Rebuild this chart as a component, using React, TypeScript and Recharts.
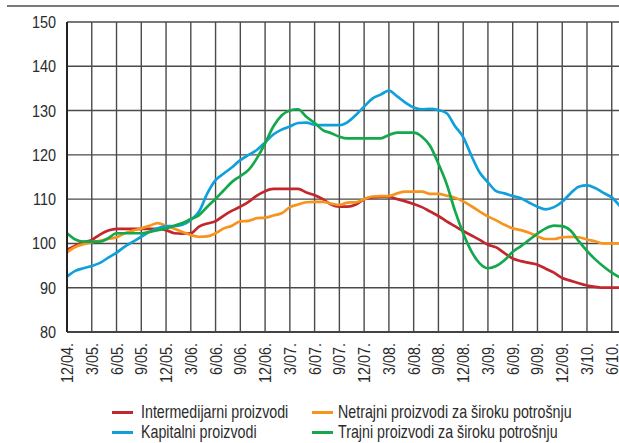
import { LineChart, Line, XAxis, YAxis, CartesianGrid } from "recharts";

const months = [
  "12/04.", "1/05.", "2/05.", "3/05.", "4/05.", "5/05.", "6/05.", "7/05.", "8/05.", "9/05.", "10/05.", "11/05.",
  "12/05.", "1/06.", "2/06.", "3/06.", "4/06.", "5/06.", "6/06.", "7/06.", "8/06.", "9/06.", "10/06.", "11/06.",
  "12/06.", "1/07.", "2/07.", "3/07.", "4/07.", "5/07.", "6/07.", "7/07.", "8/07.", "9/07.", "10/07.", "11/07.",
  "12/07.", "1/08.", "2/08.", "3/08.", "4/08.", "5/08.", "6/08.", "7/08.", "8/08.", "9/08.", "10/08.", "11/08.",
  "12/08.", "1/09.", "2/09.", "3/09.", "4/09.", "5/09.", "6/09.", "7/09.", "8/09.", "9/09.", "10/09.", "11/09.",
  "12/09.", "1/10.", "2/10.", "3/10.", "4/10.", "5/10.", "6/10.", "7/10.",
];

const intermedijarni = [
  98.6, 99.5, 100.3, 100.8, 102, 102.9, 103.3, 103.3, 103.3, 103.3, 103.3, 103.3,
  103, 102.3, 102.2, 102.3, 103.8, 104.5, 105, 106.3, 107.4, 108.3, 109.4, 110.8,
  111.8, 112.3, 112.3, 112.3, 112.3, 111.5, 110.9, 110, 108.8, 108.3, 108.3, 108.8,
  110, 110.4, 110.5, 110.5, 110, 109.5, 108.9, 108.2, 107.2, 106.2, 105, 103.9,
  102.8, 101.8, 100.8, 99.7, 99.1, 97.8, 96.6, 96, 95.6, 95.2, 94.3, 93.4,
  92.2, 91.6, 91, 90.5, 90.2, 90, 90, 90,
];

const netrajni = [
  98, 99.2, 99.8, 100.3, 100.6, 101, 101.4, 102.3, 102.9, 103.4, 104, 104.6,
  104, 103.3, 102.6, 101.9, 101.5, 101.6, 102.3, 103.4, 104, 105, 105.1, 105.7,
  105.8, 106.3, 106.8, 108.2, 108.8, 109.3, 109.4, 109.4, 109, 108.7, 109.2, 109.3,
  110, 110.6, 110.7, 110.7, 111.3, 111.7, 111.7, 111.7, 111.2, 111.2, 110.8, 110.3,
  109.5, 108.4, 107.2, 106.1, 105.2, 104.2, 103.4, 103, 102.4, 101.6, 101, 101,
  101.4, 101.5, 101.4, 100.9, 100.5, 100, 100, 100,
];

const kapitalni = [
  92.5, 93.8, 94.4, 94.9, 95.6, 96.8, 97.9, 99.3, 100.4, 101.5, 102.6, 103.4,
  103.9, 103.9, 104.2, 105.3, 107.2, 111.3, 114.3, 115.8, 117.2, 118.8, 120, 121.1,
  122.8, 124.6, 125.7, 126.4, 127.2, 127.3, 126.8, 126.7, 126.7, 126.7, 127.4, 129,
  130.9, 132.7, 133.6, 134.5, 133.2, 131.8, 130.7, 130.3, 130.4, 130.1, 129.4, 126.5,
  124, 119.8, 116, 113.8, 111.8, 111.3, 110.7, 110.2, 109.2, 108.3, 107.7, 108.2,
  109.4, 111.3, 112.8, 113.1, 112.5, 111.4, 110.4, 108.4,
];

const trajni = [
  102.3, 100.9, 100.4, 100.4, 100.4, 101.2, 102.3, 102.3, 102.3, 102.3, 102.6, 103,
  103.4, 104, 104.6, 105.5, 106.4, 108.3, 110.1, 112, 113.9, 115.2, 116.6, 119.2,
  122.6, 126.4, 128.9, 130, 130.3, 128.6, 127.2, 125.6, 124.9, 124.1, 123.7, 123.7,
  123.7, 123.7, 123.7, 124.5, 125, 125, 125, 124.1, 122, 118, 113.4, 107.4,
  102.3, 98.2, 95.5, 94.4, 94.9, 96.2, 98.1, 99.4, 100.8, 102.2, 103.4, 104,
  103.9, 102.9, 100.5, 98.3, 96.4, 94.8, 93.4, 92.3,
];

const yTicks = [80, 90, 100, 110, 120, 130, 140, 150];

const series = [
  { key: "intermedijarni", name: "Intermedijarni proizvodi", color: "#C1272D" },
  { key: "netrajni", name: "Netrajni proizvodi za široku potrošnju", color: "#F7941D" },
  { key: "kapitalni", name: "Kapitalni proizvodi", color: "#0FA0DC" },
  { key: "trajni", name: "Trajni proizvodi za široku potrošnju", color: "#13A84B" },
];

const data = months.map((m, i) => ({
  month: m,
  intermedijarni: intermedijarni[i],
  netrajni: netrajni[i],
  kapitalni: kapitalni[i],
  trajni: trajni[i],
}));

const FONT = "'Liberation Sans', Arial, sans-serif";
const TEXT = "#2b2b2b";

// Liberation Sans squeezed horizontally to look like the condensed original
const XTick = (props: any) => {
  const { x, payload } = props;
  const bx = x + 6;
  const by = 343;
  return (
    <text
      transform={`translate(${bx}, ${by}) rotate(-90) scale(0.9, 1)`}
      x={0}
      y={0}
      textAnchor="end"
      fontSize={16}
      fill={TEXT}
      fontFamily={FONT}
    >
      {payload.value}
    </text>
  );
};

const YTick = (props: any) => {
  const { y, payload } = props;
  return (
    <text
      transform={`translate(56, ${y + 6}) scale(0.85, 1)`}
      x={0}
      y={0}
      textAnchor="end"
      fontSize={17}
      fill={TEXT}
      fontFamily={FONT}
    >
      {payload.value}
    </text>
  );
};

const legendPos = [
  { lx: 112, tx: 141, top: 403, ly: 412 },
  { lx: 312, tx: 338, top: 403, ly: 412 },
  { lx: 112, tx: 141, top: 423.3, ly: 432.3 },
  { lx: 312, tx: 338, top: 423.3, ly: 432.3 },
];

export default function App() {
  return (
    <div
      style={{
        position: "fixed",
        top: 0,
        left: 0,
        width: 619,
        height: 443,
        overflow: "hidden",
        fontFamily: FONT,
        background: "#fff",
      }}
    >
      <LineChart
        width={625}
        height={443}
        data={data}
        margin={{ top: 22, right: 5, bottom: 51, left: 0 }}
      >
        <CartesianGrid stroke="#4a4a4a" strokeWidth={1.4} />
        <XAxis
          dataKey="month"
          interval={2}
          height={60}
          tickLine={false}
          axisLine={{ stroke: "#444", strokeWidth: 2 }}
          tick={<XTick />}
        />
        <YAxis
          domain={[80, 150]}
          ticks={yTicks}
          width={67}
          tickLine={false}
          axisLine={{ stroke: "#222", strokeWidth: 2 }}
          tick={<YTick />}
        />
        {series.map((s) => (
          <Line
            key={s.key}
            type="monotone"
            dataKey={s.key}
            name={s.name}
            stroke={s.color}
            strokeWidth={2.7}
            dot={false}
            isAnimationActive={false}
          />
        ))}
      </LineChart>
      {/* thin rule above the chart */}
      <div
        style={{
          position: "absolute",
          zIndex: 10,
          top: 5,
          left: 7,
          width: 612,
          height: 2,
          backgroundColor: "#7a7a7a",
        }}
      />
      {series.map((s, i) => (
        <div key={s.key}>
          <div
            style={{
              position: "absolute",
              left: legendPos[i].lx,
              top: legendPos[i].ly - 1.5,
              width: 21,
              height: 3,
              background: s.color,
            }}
          />
          <span
            style={{
              position: "absolute",
              left: legendPos[i].tx,
              top: legendPos[i].top,
              fontSize: 18.5,
              lineHeight: "18.5px",
              color: TEXT,
              whiteSpace: "nowrap",
              transform: "scaleX(0.77)",
              transformOrigin: "left center",
            }}
          >
            {s.name}
          </span>
        </div>
      ))}
    </div>
  );
}
